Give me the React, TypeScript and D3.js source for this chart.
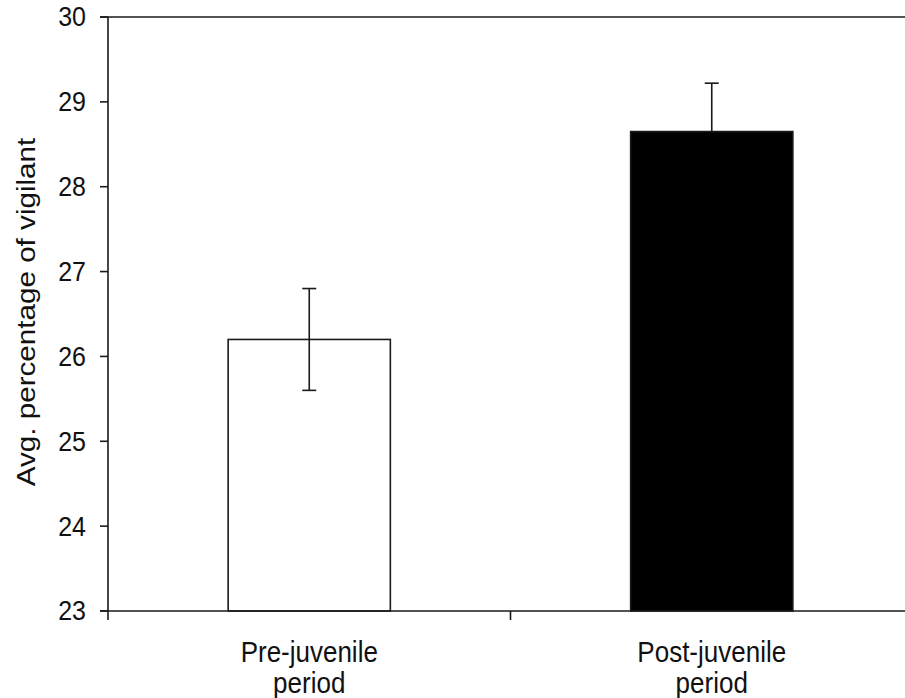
import React from "react";
import * as d3 from "d3";

const categories = ["Pre-juvenile period", "Post-juvenile period"];
const means = [26.2, 28.65];
const errors = [0.6, 0.57];
const fills = ["#ffffff", "#000000"];
const yTicks = [23, 24, 25, 26, 27, 28, 29, 30];

const W = 905;
const H = 698;
const left = 108;
const right = 913;
const top = 17;
const bottom = 611;

export default function App() {
  const y = d3.scaleLinear().domain([23, 30]).range([bottom, top]);
  const x = d3.scaleBand<number>().domain(categories.map((_, i) => i)).range([left, right]).padding(0);
  const bw = x.bandwidth() * 0.403;
  const font = "'Liberation Sans', Arial, sans-serif";
  const stroke = "#1a1a1a";
  return (
    <div style={{ position: "absolute", left: 0, top: 0 }}>
      <svg width={W} height={H} style={{ display: "block" }} fontFamily={font}>
        <rect width={W} height={H} fill="#fff" />
        {/* bars */}
        {means.map((m, i) => {
          const cx = x(i)! + x.bandwidth() / 2;
          return (
            <g key={i}>
              <rect x={cx - bw / 2} y={y(m)} width={bw} height={y(23) - y(m)} fill={fills[i]} stroke={stroke} strokeWidth={1.6} />
              <line x1={cx} x2={cx} y1={y(m + errors[i])} y2={y(i === 0 ? m - errors[i] : m)} stroke={stroke} strokeWidth={1.6} />
              <line x1={cx - 7} x2={cx + 7} y1={y(m + errors[i])} y2={y(m + errors[i])} stroke={stroke} strokeWidth={1.6} />
              {i === 0 && (
                <line x1={cx - 7} x2={cx + 7} y1={y(m - errors[i])} y2={y(m - errors[i])} stroke={stroke} strokeWidth={1.6} />
              )}
            </g>
          );
        })}
        {/* frame top line */}
        <line x1={left - 8} x2={W} y1={y(30)} y2={y(30)} stroke={stroke} strokeWidth={1.6} />
        {/* y axis */}
        <line x1={left} x2={left} y1={y(30)} y2={bottom + 9} stroke={stroke} strokeWidth={1.6} />
        {yTicks.map((t) => (
          <g key={t}>
            <line x1={left - 8} x2={left} y1={y(t)} y2={y(t)} stroke={stroke} strokeWidth={1.6} />
            <text
              x={0}
              y={0}
              transform={`translate(${left - 22},${y(t)}) scale(1,1.1)`}
              textAnchor="end"
              dominantBaseline="central"
              fontSize={25}
              fill="#111"
            >
              {t}
            </text>
          </g>
        ))}
        {/* x axis */}
        <line x1={left - 8} x2={W} y1={bottom} y2={bottom} stroke={stroke} strokeWidth={1.6} />
        {categories.map((_, i) => (
          <line key={i} x1={x(i)! + x.bandwidth()} x2={x(i)! + x.bandwidth()} y1={bottom} y2={bottom + 9} stroke={stroke} strokeWidth={1.6} />
        ))}
        {categories.map((c, i) => {
          const cx = x(i)! + x.bandwidth() / 2;
          const parts = c.split(" ");
          return (
            <g key={c} transform={`translate(${cx},0)`}>
              {parts.map((p, k) => (
                <text key={k} x={0} y={0} transform={`translate(0,${662 + k * 31}) scale(1,1.12)`} textAnchor="middle" fontSize={26} fill="#111">
                  {p}
                </text>
              ))}
            </g>
          );
        })}
        {/* y label */}
        <text
          transform={`translate(35,${(top + bottom) / 2 - 2}) rotate(-90) scale(1.14,1)`}
          textAnchor="middle"
          fontSize={26}
          fill="#111"
        >
          Avg. percentage of vigilant
        </text>
      </svg>
    </div>
  );
}
